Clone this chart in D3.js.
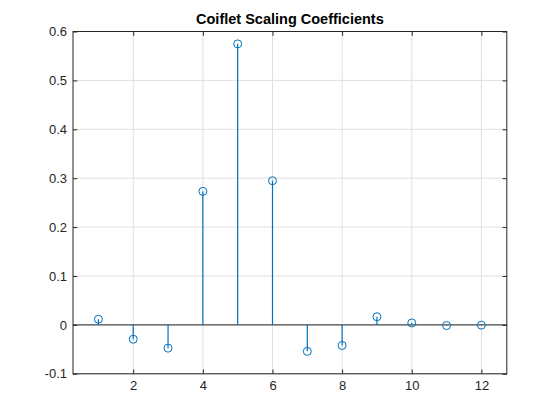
<!DOCTYPE html>
<html><head><meta charset="utf-8">
<script src="https://cdn.jsdelivr.net/npm/d3@7"></script>
<style>body{margin:0;background:#fff}svg{display:block}</style>
</head><body>
<script>
const indices = [1,2,3,4,5,6,7,8,9,10,11,12];
const coefs = [0.0116, -0.0293, -0.0476, 0.2730, 0.5747, 0.2949, -0.0541, -0.0420, 0.0167, 0.0040, -0.0013, -0.0005];
const xTicks = [2,4,6,8,10,12];
const yTicks = [-0.1,0,0.1,0.2,0.3,0.4,0.5,0.6];
const yTickLabels = ["-0.1","0","0.1","0.2","0.3","0.4","0.5","0.6"];
const titleText = "Coiflet Scaling Coefficients";

const W=560,H=420;
const L=73,R=506.8,T=31.5,B=373.8;
const svg=d3.select("body").append("svg").attr("width",W).attr("height",H);
const x=d3.scaleLinear().domain([0.27,12.73]).range([L,R]);
const y=d3.scaleLinear().domain([-0.1,0.6]).range([B,T]);
const axc="#262626", grid="#dfdfdf", blue="#0072BD";
const font="Liberation Sans, Arial, Helvetica, sans-serif";

// grid
svg.append("g").selectAll("line").data(xTicks).join("line")
 .attr("x1",d=>x(d)).attr("x2",d=>x(d)).attr("y1",T).attr("y2",B).attr("stroke",grid).attr("stroke-width",1);
svg.append("g").selectAll("line").data(yTicks).join("line")
 .attr("x1",L).attr("x2",R).attr("y1",d=>y(d)).attr("y2",d=>y(d)).attr("stroke",grid).attr("stroke-width",1);

// axes with inward ticks
const tl=4.3;
const gB=svg.append("g").attr("transform",`translate(0,${B})`).call(d3.axisBottom(x).tickValues(xTicks).tickSizeInner(-tl).tickSizeOuter(0).tickPadding(7).tickFormat(d3.format("d")));
const gT=svg.append("g").attr("transform",`translate(0,${T})`).call(d3.axisTop(x).tickValues(xTicks).tickSizeInner(-tl).tickSizeOuter(0).tickFormat(""));
const gL=svg.append("g").attr("transform",`translate(${L},0)`).call(d3.axisLeft(y).tickValues(yTicks).tickSizeInner(-tl).tickSizeOuter(0).tickPadding(6).tickFormat((d,i)=>yTickLabels[i]));
const gR=svg.append("g").attr("transform",`translate(${R},0)`).call(d3.axisRight(y).tickValues(yTicks).tickSizeInner(-tl).tickSizeOuter(0).tickFormat(""));
[gB,gT,gL,gR].forEach(g=>{
  g.select(".domain").remove();
  g.selectAll("line").attr("stroke",axc);
  g.selectAll("text").attr("fill",axc).style("font-family",font).style("font-size","13px");
});
// box
svg.append("rect").attr("x",L).attr("y",T).attr("width",R-L).attr("height",B-T).attr("fill","none").attr("stroke",axc).attr("stroke-width",1);

// baseline
svg.append("line").attr("x1",L).attr("x2",R).attr("y1",y(0)).attr("y2",y(0)).attr("stroke",axc).attr("stroke-width",1);

// stems
const data=indices.map((d,i)=>({i:d,v:coefs[i]}));
svg.append("g").selectAll("line").data(data).join("line")
 .attr("x1",d=>x(d.i)).attr("x2",d=>x(d.i)).attr("y1",y(0)).attr("y2",d=>y(d.v))
 .attr("stroke",blue).attr("stroke-width",1.2);
svg.append("g").selectAll("circle").data(data).join("circle")
 .attr("cx",d=>x(d.i)).attr("cy",d=>y(d.v)).attr("r",4)
 .attr("fill","none").attr("stroke",blue).attr("stroke-width",1);

// title
svg.append("text").attr("x",(L+R)/2).attr("y",24).attr("text-anchor","middle")
 .style("font-family",font).style("font-size","14.5px").style("font-weight","bold").attr("fill","#000").text(titleText);
</script>
</body></html>
